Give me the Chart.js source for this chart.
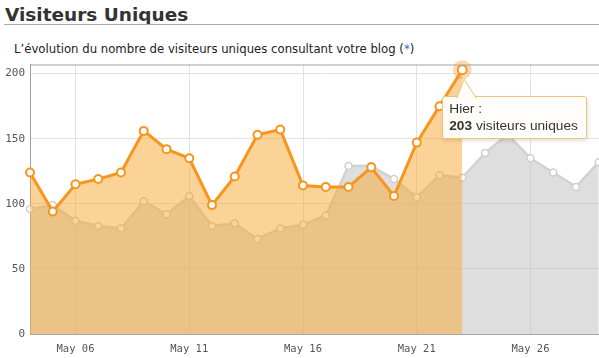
<!DOCTYPE html>
<html>
<head>
<meta charset="utf-8">
<script src="https://cdn.jsdelivr.net/npm/chart.js@4/dist/chart.umd.min.js"></script>
<style>
  html, body { margin:0; padding:0; background:#fff; }
  body { width:599px; height:358px; overflow:hidden; position:relative; font-family:"DejaVu Sans", sans-serif; }
  #title { position:absolute; left:5px; top:4px; font:bold 18.5px/22px "DejaVu Sans", sans-serif; color:#333; white-space:nowrap; }
  #rule { position:absolute; left:4px; right:0; top:24px; height:1px; background:#aaa; }
  #sub { position:absolute; left:14px; top:42px; font:11.7px/15px "DejaVu Sans", sans-serif; color:#222; white-space:nowrap; }
  #sub .star { color:#3a6fd0; }
  #wrap { position:absolute; left:0; top:58px; width:628px; height:300px; }
  #tip { position:absolute; background:rgba(255,253,249,0.95); border:1px solid #f2c27a; border-radius:3px;
         box-shadow:1px 2px 4px rgba(0,0,0,0.12); padding:3px 8px 4px 6px; font:13.7px/17px "Liberation Sans", Arial, sans-serif; color:#333; white-space:nowrap; }
  #tip svg { position:absolute; left:0; top:0; overflow:visible; }
</style>
</head>
<body>
<div id="title">Visiteurs Uniques</div>
<div id="rule"></div>
<div id="sub">L’évolution du nombre de visiteurs uniques consultant votre blog (<span class="star">*</span>)</div>
<div id="wrap"><canvas id="c"></canvas></div>
<div id="tip"></div>
<script>
// ---- data ----
const dates = ['May 04','May 05','May 06','May 07','May 08','May 09','May 10','May 11','May 12','May 13',
               'May 14','May 15','May 16','May 17','May 18','May 19','May 20','May 21','May 22','May 23',
               'May 24','May 25','May 26','May 27','May 28','May 29','May 30'];
const shownTicks = ['May 06','May 11','May 16','May 21','May 26'];
const yTicks = [0, 50, 100, 150, 200];
const visitors = [124, 94, 115, 119, 124, 156, 142, 135, 99, 121, 153, 157, 114, 113, 113, 128, 106, 147, 175, 203];
const previous = [96, 99, 87, 83, 81, 102, 92, 106, 83, 85, 73, 81, 84, 91, 129, 129, 119, 105, 122, 120, 139, 153, 135, 124, 113, 132];
const tipTitle = 'Hier :';
const tipUnit = 'visiteurs uniques';

const ORANGE = '#f7961e';
const lastIdx = visitors.length - 1;

const frame = {
  id: 'frame',
  afterDatasetsDraw(chart) {
    const ctx = chart.ctx, a = chart.chartArea;
    const el = chart.getDatasetMeta(0).data[lastIdx];
    ctx.save();
    ctx.beginPath();
    ctx.arc(el.x, el.y, 7.5, 0, Math.PI * 2);
    ctx.strokeStyle = 'rgba(247,150,30,0.35)';
    ctx.lineWidth = 4;
    ctx.stroke();
    ctx.beginPath();
    ctx.moveTo(a.left, a.top + 0.5);
    ctx.lineTo(a.right, a.top + 0.5);
    ctx.strokeStyle = '#a0a0a0';
    ctx.lineWidth = 1;
    ctx.stroke();
    ctx.restore();
  }
};

const noPad = s => { s.paddingTop = 0; s.paddingBottom = 0; s.paddingLeft = 0; s.paddingRight = 0; };

const chart = new Chart(document.getElementById('c'), {
  type: 'line',
  data: {
    labels: dates,
    datasets: [
      {
        data: visitors,
        borderColor: ORANGE,
        borderWidth: 3,
        backgroundColor: 'rgba(250,168,48,0.5)',
        fill: 'origin',
        tension: 0,
        pointRadius: ctx => ctx.dataIndex === lastIdx ? 4.5 : 4,
        pointBorderWidth: 2,
        pointBorderColor: ORANGE,
        pointBackgroundColor: '#fff'
      },
      {
        data: previous,
        borderColor: '#d2d2d2',
        borderWidth: 2.5,
        backgroundColor: 'rgba(192,192,192,0.52)',
        fill: 'origin',
        tension: 0,
        pointRadius: 3.5,
        pointBorderWidth: 1.5,
        pointBorderColor: '#cfcfcf',
        pointBackgroundColor: '#fff'
      }
    ]
  },
  options: {
    responsive: true,
    maintainAspectRatio: false,
    animation: false,
    events: [],
    layout: { padding: { top: 6, left: 0, right: 0, bottom: 0 } },
    plugins: { legend: { display: false }, tooltip: { enabled: false } },
    scales: {
      x: {
        offset: false,
        grid: { color: '#e2e2e2', drawTicks: false },
        border: { color: '#a8a8a8' },
        ticks: {
          autoSkip: false, maxRotation: 0, padding: 9,
          color: '#555',
          font: { family: 'DejaVu Sans Mono', size: 10.5 },
          callback: function (v, i) { const l = dates[i]; return shownTicks.includes(l) ? l : null; }
        },
        afterFit: s => { s.height = 24; noPad(s); }
      },
      y: {
        min: 0, max: 207,
        grid: { color: '#e2e2e2', drawTicks: false },
        border: { color: '#a0a0a0' },
        ticks: {
          padding: 5, color: '#555',
          font: { family: 'DejaVu Sans Mono', size: 11 }
        },
        afterBuildTicks: s => { s.ticks = yTicks.map(v => ({ value: v })); },
        afterFit: s => { s.width = 30; noPad(s); }
      }
    }
  },
  plugins: [frame]
});

const wrap = document.getElementById('wrap');
const pt = chart.getDatasetMeta(0).data[lastIdx];
const tip = document.getElementById('tip');
tip.innerHTML = tipTitle + '<br><b>' + visitors[lastIdx] + '</b> ' + tipUnit;
const px = wrap.offsetLeft + pt.x, py = wrap.offsetTop + pt.y;
tip.style.left = (px - 20) + 'px';
tip.style.top = (py + 26) + 'px';
const ax = 20, ah = 18;
tip.insertAdjacentHTML('beforeend',
  '<svg width="1" height="1"><polygon points="' + (ax - 6) + ',0.5 ' + (ax + 1) + ',' + (-ah) + ' ' + (ax + 13) + ',0.5" ' +
  'fill="rgba(255,253,249,0.97)" stroke="#f2c27a" stroke-width="1"/>' +
  '<line x1="' + (ax - 5) + '" y1="1" x2="' + (ax + 12) + '" y2="1" stroke="rgba(255,253,249,1)" stroke-width="2"/></svg>');
</script>
</body>
</html>
